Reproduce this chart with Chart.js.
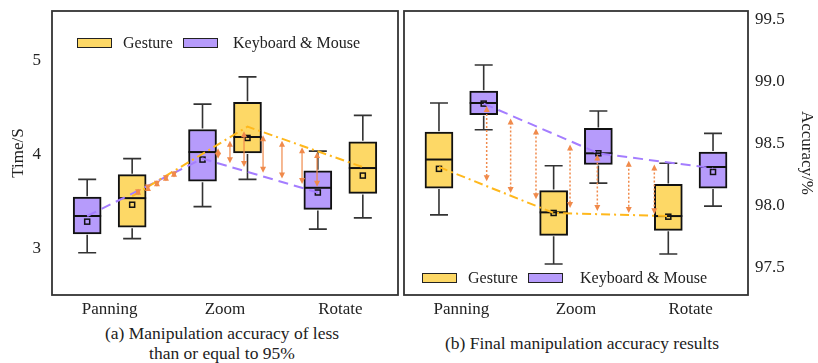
<!DOCTYPE html>
<html>
<head>
<meta charset="utf-8">
<script src="https://cdn.jsdelivr.net/npm/chart.js@4.4.1/dist/chart.umd.min.js"></script>
<style>
body { margin: 0; background: #fff; font-family: "Liberation Serif", "Times New Roman", Times, "DejaVu Serif", serif; color: #222; }
#wrap { position: relative; width: 818px; height: 363px; overflow: hidden; }
.panel { position: absolute; top: 0; height: 322px; }
#timePanel { left: 0; width: 400px; }
#accPanel { left: 400px; width: 418px; }
.caption { position: absolute; width: 400px; font-size: 17.5px; line-height: 20px; text-align: center; white-space: nowrap; }
.swatch { position: absolute; width: 33px; height: 8px; border: 1.6px solid #222; }
.legendText { position: absolute; font-size: 16px; line-height: 18px; white-space: nowrap; }
</style>
</head>
<body>
<div id="wrap">
  <div class="panel" id="timePanel"><canvas id="timeChart" width="400" height="322"></canvas></div>
  <div class="panel" id="accPanel"><canvas id="accChart" width="418" height="322"></canvas></div>

  <div class="swatch" style="left:77px; top:38px; background:#fdd866;"></div>
  <div class="legendText" style="left:123px; top:34px;">Gesture</div>
  <div class="swatch" style="left:183px; top:38px; background:#b69bfb;"></div>
  <div class="legendText" style="left:233px; top:34px;">Keyboard &amp; Mouse</div>

  <div class="swatch" style="left:422px; top:273px; background:#fdd866;"></div>
  <div class="legendText" style="left:468px; top:269px;">Gesture</div>
  <div class="swatch" style="left:528px; top:273px; background:#b69bfb;"></div>
  <div class="legendText" style="left:580px; top:269px;">Keyboard &amp; Mouse</div>

  <div class="caption" style="left:22px; top:323px;">(a) Manipulation accuracy of less<br>than or equal to 95%</div>
  <div class="caption" style="left:382px; top:333px;">(b) Final manipulation accuracy results</div>
</div>
<script>
const categories = ['Panning', 'Zoom', 'Rotate'];

// each row: [min, q1, median, q3, max, mean]
const timeGesture = [
    [3.11, 3.23, 3.54, 3.79, 3.96, 3.47],
    [3.74, 4.02, 4.19, 4.56, 4.83, 4.18],
    [3.33, 3.59, 3.86, 4.14, 4.42, 3.78]
];
const timeKeyboard = [
    [2.96, 3.16, 3.35, 3.55, 3.74, 3.29],
    [3.45, 3.72, 4.03, 4.27, 4.54, 3.95],
    [3.21, 3.42, 3.65, 3.83, 4.04, 3.60]
];
const timeGestureTrend = [3.56, 4.30, 3.87];
const timeKeyboardTrend = [3.35, 3.96, 3.60];
const timeGapX = [1.246, 1.332, 1.41, 1.488, 1.558, 1.94, 2.043, 2.165, 2.33, 2.494, 2.668, 2.798];
const timeGapLow = [3.57, 3.62, 3.66, 3.72, 3.76, 3.96, 3.91, 3.87, 3.81, 3.75, 3.69, 3.66];
const timeGapHigh = [3.64, 3.68, 3.73, 3.79, 3.83, 4.07, 4.15, 4.25, 4.21, 4.15, 4.08, 4.03];
const timeTicks = [3, 4, 5];

const accGesture = [
    [97.925, 98.14, 98.37, 98.59, 98.825, 98.295],
    [97.53, 97.76, 97.945, 98.12, 98.32, 97.94],
    [97.61, 97.80, 97.915, 98.17, 98.34, 97.91]
];
const accKeyboard = [
    [98.61, 98.73, 98.825, 98.92, 99.13, 98.82],
    [98.18, 98.33, 98.42, 98.62, 98.76, 98.42],
    [97.995, 98.14, 98.31, 98.43, 98.58, 98.27]
];
const accGestureTrend = [98.31, 97.94, 97.915];
const accKeyboardTrend = [98.82, 98.42, 98.30];
const accGapX = [1.221, 1.430, 1.651, 1.948, 2.186, 2.46, 2.683];
const accGapLow = [98.195, 98.10, 98.05, 97.98, 97.955, 97.94, 97.93];
const accGapHigh = [98.80, 98.70, 98.62, 98.49, 98.41, 98.36, 98.33];
const accTicks = [97.5, 98.0, 98.5, 99.0, 99.5];

const GESTURE_FILL = '#fdd866';
const KEYBOARD_FILL = '#b69bfb';
const GESTURE_LINE = '#ffb81c';
const KEYBOARD_LINE = '#a47dff';
const ARROW_COLOR = '#f08a4b';
const SHIFT = 0.195;
const FONT = { family: '"Liberation Serif", "Times New Roman", Times, "DejaVu Serif", serif', size: 17 };

function boxDataset(label, stats, shift, fill) {
    return {
        type: 'bar',
        label,
        stats,
        grouped: false,
        order: 3,
        data: stats.map((s, i) => ({ x: i + 1 + shift, y: [s[1], s[3]] })),
        backgroundColor: fill,
        borderColor: '#111',
        borderWidth: 2,
        borderSkipped: false,
        barThickness: 28
    };
}

function trendDataset(label, values, shift, color, dash) {
    return {
        type: 'line',
        label,
        order: 1,
        data: values.map((v, i) => ({ x: i + 1 + shift, y: v })),
        borderColor: color,
        borderWidth: 2,
        borderDash: dash,
        pointRadius: 0,
        fill: false,
        tension: 0
    };
}

// whiskers, median and mean drawn on top of each box
const boxPlotPlugin = {
    id: 'boxPlot',
    afterDatasetDraw(chart, args) {
        const ds = chart.data.datasets[args.index];
        if (!ds.stats) return;
        const { ctx, scales: { y } } = chart;
        ctx.save();
        ds.stats.forEach((s, i) => {
            const bar = args.meta.data[i];
            const cx = bar.x, half = bar.width / 2;
            const yMin = y.getPixelForValue(s[0]), yQ1 = y.getPixelForValue(s[1]);
            const yQ3 = y.getPixelForValue(s[3]), yMax = y.getPixelForValue(s[4]);
            ctx.strokeStyle = '#333';
            ctx.lineWidth = 1.6;
            ctx.beginPath();
            ctx.moveTo(cx, yQ3 - 1); ctx.lineTo(cx, yMax);
            ctx.moveTo(cx - 9, yMax); ctx.lineTo(cx + 9, yMax);
            ctx.moveTo(cx, yQ1 + 1); ctx.lineTo(cx, yMin);
            ctx.moveTo(cx - 9, yMin); ctx.lineTo(cx + 9, yMin);
            ctx.stroke();

            const yMed = y.getPixelForValue(s[2]);
            ctx.strokeStyle = '#111';
            ctx.lineWidth = 2;
            ctx.beginPath();
            ctx.moveTo(cx - half, yMed); ctx.lineTo(cx + half, yMed);
            ctx.stroke();

            const yMean = y.getPixelForValue(s[5]);
            ctx.lineWidth = 1.5;
            ctx.strokeRect(cx - 2.5, yMean - 2.5, 5, 5);
        });
        ctx.restore();
    }
};

function arrowHead(ctx, x, tip, dir) {
    ctx.beginPath();
    ctx.moveTo(x, tip);
    ctx.lineTo(x - 3, tip - dir * 6);
    ctx.lineTo(x + 3, tip - dir * 6);
    ctx.closePath();
    ctx.fill();
}

const gapArrowPlugin = {
    id: 'gapArrows',
    afterDatasetsDraw(chart, args, opts) {
        const { ctx, scales: { x, y } } = chart;
        ctx.save();
        ctx.strokeStyle = ARROW_COLOR;
        ctx.fillStyle = ARROW_COLOR;
        ctx.lineWidth = opts.width;
        opts.xs.forEach((xv, i) => {
            const px = x.getPixelForValue(xv);
            const top = y.getPixelForValue(opts.high[i]);
            const bottom = y.getPixelForValue(opts.low[i]);
            ctx.setLineDash(opts.dash);
            ctx.beginPath();
            ctx.moveTo(px, top + 4);
            ctx.lineTo(px, bottom - 4);
            ctx.stroke();
            ctx.setLineDash([]);
            arrowHead(ctx, px, top, -1);
            arrowHead(ctx, px, bottom, 1);
        });
        ctx.restore();
    }
};

const framePlugin = {
    id: 'frame',
    afterDraw(chart) {
        const { ctx, chartArea: a } = chart;
        ctx.save();
        ctx.strokeStyle = '#333';
        ctx.lineWidth = 1.8;
        ctx.strokeRect(a.left, a.top, a.right - a.left, a.bottom - a.top);
        ctx.restore();
    }
};

function xAxis() {
    return {
        type: 'linear',
        min: 0.5,
        max: 3.5,
        offset: false,
        grid: { display: false, drawTicks: false },
        border: { display: false },
        afterBuildTicks: ax => { ax.ticks = categories.map((c, i) => ({ value: i + 1 })); },
        ticks: { callback: v => categories[v - 1] || '', font: FONT, color: '#222', padding: 4, maxRotation: 0, autoSkip: false },
        afterFit: ax => { ax.height = 27; ax.paddingLeft = 0; ax.paddingRight = 0; }
    };
}

function yFit(width) {
    return ax => { ax.width = width; ax.paddingTop = 0; ax.paddingBottom = 0; };
}

new Chart(document.getElementById('timeChart'), {
    type: 'bar',
    data: {
        datasets: [
            boxDataset('Keyboard & Mouse', timeKeyboard, -SHIFT, KEYBOARD_FILL),
            boxDataset('Gesture', timeGesture, SHIFT, GESTURE_FILL),
            trendDataset('Gesture trend', timeGestureTrend, SHIFT, GESTURE_LINE, [9, 4, 2, 4]),
            trendDataset('Keyboard & Mouse trend', timeKeyboardTrend, -SHIFT, KEYBOARD_LINE, [10, 6])
        ]
    },
    options: {
        responsive: false,
        animation: false,
        layout: { padding: { left: 0, right: 2, top: 11, bottom: 0 } },
        plugins: {
            legend: { display: false },
            tooltip: { enabled: false },
            gapArrows: { xs: timeGapX, low: timeGapLow, high: timeGapHigh, dash: [], width: 1.2 }
        },
        scales: {
            x: xAxis(),
            y: {
                position: 'left',
                min: 2.51,
                max: 5.53,
                grid: { display: false, drawTicks: false },
                border: { display: false },
                afterBuildTicks: ax => { ax.ticks = timeTicks.map(v => ({ value: v })); },
                ticks: { font: FONT, color: '#222', padding: 11 },
                title: { display: true, text: 'Time/S', font: FONT, color: '#222', padding: { top: 8, bottom: 0 } },
                afterFit: yFit(52)
            }
        }
    },
    plugins: [boxPlotPlugin, gapArrowPlugin, framePlugin]
});

new Chart(document.getElementById('accChart'), {
    type: 'bar',
    data: {
        datasets: [
            boxDataset('Gesture', accGesture, -SHIFT, GESTURE_FILL),
            boxDataset('Keyboard & Mouse', accKeyboard, SHIFT, KEYBOARD_FILL),
            trendDataset('Gesture trend', accGestureTrend, -SHIFT, GESTURE_LINE, [9, 4, 2, 4]),
            trendDataset('Keyboard & Mouse trend', accKeyboardTrend, SHIFT, KEYBOARD_LINE, [10, 6])
        ]
    },
    options: {
        responsive: false,
        animation: false,
        layout: { padding: { left: 4, right: 0, top: 11, bottom: 0 } },
        plugins: {
            legend: { display: false },
            tooltip: { enabled: false },
            gapArrows: { xs: accGapX, low: accGapLow, high: accGapHigh, dash: [2, 2], width: 1.5 }
        },
        scales: {
            x: xAxis(),
            y: {
                position: 'right',
                min: 97.28,
                max: 99.565,
                grid: { display: false, drawTicks: false },
                border: { display: false },
                afterBuildTicks: ax => { ax.ticks = accTicks.map(v => ({ value: v })); },
                ticks: { font: FONT, color: '#222', padding: 7, callback: v => v.toFixed(1) },
                title: { display: true, text: 'Accuracy/%', font: FONT, color: '#222', padding: { top: 1, bottom: 0 } },
                afterFit: yFit(70)
            }
        }
    },
    plugins: [boxPlotPlugin, gapArrowPlugin, framePlugin]
});
</script>
</body>
</html>
